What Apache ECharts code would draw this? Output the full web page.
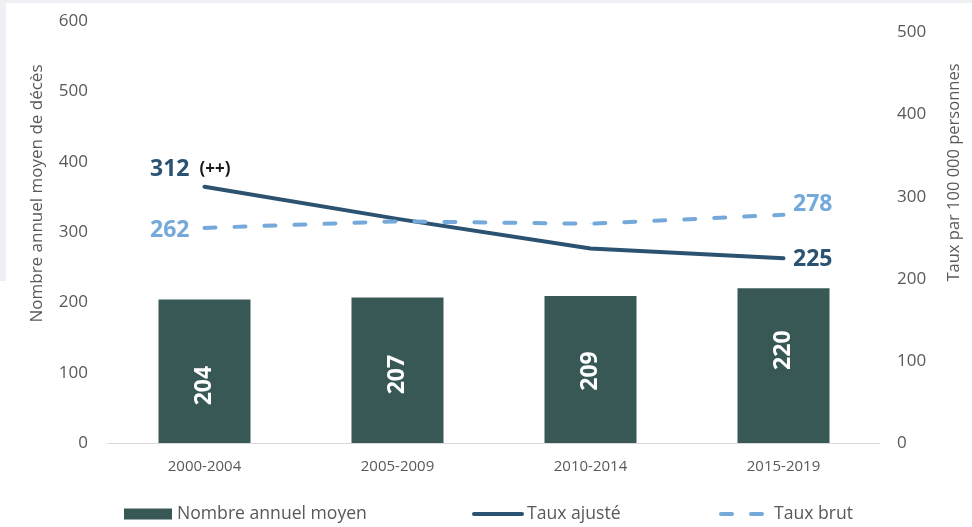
<!DOCTYPE html>
<html>
<head>
<meta charset="utf-8">
<script src="https://cdn.jsdelivr.net/npm/echarts@6/dist/echarts.min.js"></script>
<style>
  html, body { margin: 0; padding: 0; background: #ffffff; }
  #chart { width: 972px; height: 527px; }
</style>
</head>
<body>
<div id="chart"></div>
<script>
// Périodes et valeurs
const categories = ['2000-2004', '2005-2009', '2010-2014', '2015-2019'];
const nombreAnnuelMoyen = [204, 207, 209, 220];
const tauxAjuste = [312, 273, 237, 225];
const tauxBrut = [262, 270, 267, 278];
const significativite = '(++)';

// Échelles des axes
const leftAxis = { min: 0, max: 600, interval: 100 };
const rightAxis = { min: 0, max: 514, interval: 100 };

// Mise en forme
const FONT = '"Open Sans", "Noto Sans", sans-serif';
const GREY = '#595959';
const BAR_COLOR = '#385856';
const AJUSTE_COLOR = '#2B5371';
const BRUT_COLOR = '#74A9D9';
const barLabelAnchor = ['60%', '53%', '51%', '40%'];

const valueLabel = (color) => ({
  show: true,
  align: 'left',
  verticalAlign: 'middle',
  color: color,
  fontFamily: FONT,
  fontWeight: 'bold',
  fontSize: 23
});

const ajusteData = tauxAjuste.map((v, i) => {
  if (i === 0) {
    return {
      value: v,
      label: Object.assign(valueLabel(AJUSTE_COLOR), {
        position: [-54, -17],
        formatter: '{v|{c}}{n|' + significativite + '}',
        rich: {
          v: { color: AJUSTE_COLOR, fontFamily: FONT, fontWeight: 'bold', fontSize: 23, verticalAlign: 'middle' },
          n: { color: '#1a1a1a', fontFamily: FONT, fontWeight: 'bold', fontSize: 17, verticalAlign: 'middle', padding: [0, 0, 0, 10] }
        }
      })
    };
  }
  if (i === tauxAjuste.length - 1) {
    return { value: v, label: Object.assign(valueLabel(AJUSTE_COLOR), { position: [10, 1.5] }) };
  }
  return v;
});

const brutData = tauxBrut.map((v, i) => {
  if (i === 0) {
    return { value: v, label: Object.assign(valueLabel(BRUT_COLOR), { position: [-54, 3.5] }) };
  }
  if (i === tauxBrut.length - 1) {
    return { value: v, label: Object.assign(valueLabel(BRUT_COLOR), { position: [10, -9.5] }) };
  }
  return v;
});

const barData = nombreAnnuelMoyen.map((v, i) => ({
  value: v,
  label: { position: [ '50%', barLabelAnchor[i] ] }
}));

const legendText = { color: GREY, fontFamily: FONT, fontSize: 17.6, lineHeight: 20 };
const legendBase = {
  orient: 'horizontal', top: 504, padding: 0,
  itemWidth: 48, itemHeight: 11, selectedMode: false, textStyle: legendText
};

const chart = echarts.init(document.getElementById('chart'), null, { renderer: 'canvas' });

chart.setOption({
  animation: false,
  backgroundColor: '#ffffff',
  textStyle: { fontFamily: FONT },
  graphic: [
    { type: 'rect', z: -10, shape: { x: 0, y: 0, width: 972, height: 3 }, style: { fill: '#EEF0F3' } },
    { type: 'rect', z: -10, shape: { x: 0, y: 0, width: 6, height: 281 }, style: { fill: '#EEF0F3' } },
    {
      type: 'text', x: 37, y: 193.5, rotation: Math.PI / 2,
      style: { text: 'Nombre annuel moyen de décès', fill: GREY, fontFamily: FONT, fontSize: 17, align: 'center', verticalAlign: 'middle' }
    },
    {
      type: 'text', x: 954, y: 172.5, rotation: Math.PI / 2,
      style: { text: 'Taux par 100 000 personnes', fill: GREY, fontFamily: FONT, fontSize: 16.5, align: 'center', verticalAlign: 'middle' }
    }
  ],
  grid: { left: 108, right: 92, top: 21, bottom: 84, containLabel: false },
  legend: [
    Object.assign({}, legendBase, { left: 124, data: [{ name: 'Nombre annuel moyen', icon: 'rect' }] }),
    Object.assign({}, legendBase, {
      left: 472,
      data: [{ name: 'Taux ajusté', itemStyle: { opacity: 0 }, lineStyle: { width: 4, cap: 'round' } }]
    }),
    Object.assign({}, legendBase, {
      left: 719,
      data: [{ name: 'Taux brut', itemStyle: { opacity: 0 }, lineStyle: { width: 4, cap: 'round', type: [11, 19] } }]
    })
  ],
  xAxis: {
    type: 'category',
    data: categories,
    axisLine: { lineStyle: { color: '#D9D9D9', width: 1 } },
    axisTick: { show: false },
    axisLabel: { color: GREY, fontFamily: FONT, fontSize: 15, margin: 16 }
  },
  yAxis: [
    {
      type: 'value',
      min: leftAxis.min, max: leftAxis.max, interval: leftAxis.interval,
      axisLine: { show: false }, axisTick: { show: false }, splitLine: { show: false },
      axisLabel: { color: GREY, fontFamily: FONT, fontSize: 17, margin: 20 }
    },
    {
      type: 'value',
      min: rightAxis.min, max: rightAxis.max, interval: rightAxis.interval,
      axisLine: { show: false }, axisTick: { show: false }, splitLine: { show: false },
      axisLabel: { color: GREY, fontFamily: FONT, fontSize: 17, margin: 17, showMaxLabel: false }
    }
  ],
  series: [
    {
      name: 'Nombre annuel moyen',
      type: 'bar',
      yAxisIndex: 0,
      data: barData,
      barWidth: 92,
      itemStyle: { color: BAR_COLOR },
      label: {
        show: true,
        rotate: 90,
        align: 'center',
        verticalAlign: 'middle',
        color: '#ffffff',
        fontFamily: FONT,
        fontWeight: 'bold',
        fontSize: 23
      }
    },
    {
      name: 'Taux ajusté',
      type: 'line',
      yAxisIndex: 1,
      data: ajusteData,
      symbol: 'circle',
      symbolSize: 1,
      showSymbol: true,
      itemStyle: { color: AJUSTE_COLOR },
      lineStyle: { color: AJUSTE_COLOR, width: 4, cap: 'round', join: 'round' },
      z: 3
    },
    {
      name: 'Taux brut',
      type: 'line',
      yAxisIndex: 1,
      data: brutData,
      symbol: 'circle',
      symbolSize: 1,
      showSymbol: true,
      itemStyle: { color: BRUT_COLOR },
      lineStyle: { color: BRUT_COLOR, width: 4, type: [11, 19], cap: 'round', join: 'round' },
      z: 4
    }
  ]
});
</script>
</body>
</html>
